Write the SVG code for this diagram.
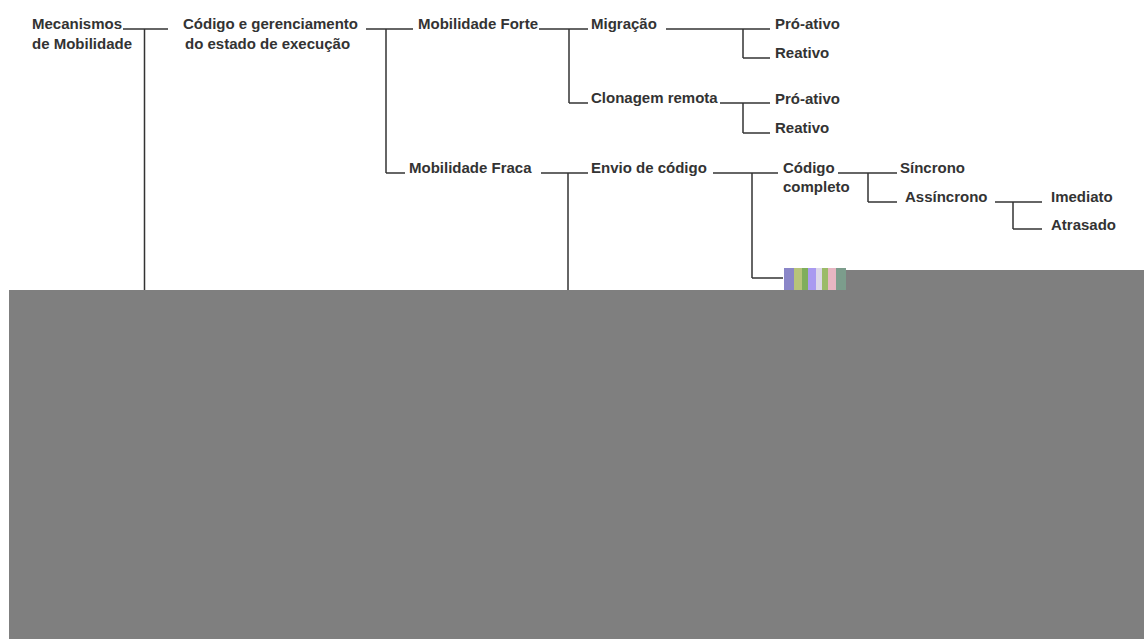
<svg xmlns="http://www.w3.org/2000/svg" width="1144" height="639" viewBox="0 0 1144 639">
<style>
text{font-family:"Liberation Sans",Arial,sans-serif;font-size:15px;font-weight:bold;fill:#333}
.c line{stroke:#333;stroke-width:1.5}
</style>
<rect width="1144" height="639" fill="#fff"/>
<g class="c" id="connectors">
<line x1="123" y1="29" x2="168" y2="29"/>
<line x1="144.5" y1="29" x2="144.5" y2="290"/>
<line x1="366" y1="29" x2="413" y2="29"/>
<line x1="386" y1="29" x2="386" y2="173"/>
<line x1="386" y1="173" x2="405" y2="173"/>
<line x1="539" y1="29" x2="588" y2="29"/>
<line x1="569" y1="29" x2="569" y2="103"/>
<line x1="569" y1="103" x2="588" y2="103"/>
<line x1="666" y1="29" x2="770" y2="29"/>
<line x1="743" y1="29" x2="743" y2="58"/>
<line x1="743" y1="58" x2="770" y2="58"/>
<line x1="720" y1="103" x2="770" y2="103"/>
<line x1="743" y1="103" x2="743" y2="133"/>
<line x1="743" y1="133" x2="770" y2="133"/>
<line x1="541" y1="173" x2="588" y2="173"/>
<line x1="568" y1="173" x2="568" y2="290"/>
<line x1="713" y1="173" x2="778" y2="173"/>
<line x1="752" y1="173" x2="752" y2="278"/>
<line x1="752" y1="278" x2="783" y2="278"/>
<line x1="838" y1="173" x2="897" y2="173"/>
<line x1="868" y1="173" x2="868" y2="202"/>
<line x1="868" y1="202" x2="897" y2="202"/>
<line x1="995" y1="202" x2="1042" y2="202"/>
<line x1="1013" y1="202" x2="1013" y2="229"/>
<line x1="1013" y1="229" x2="1042" y2="229"/>
</g>
<g id="n-mecanismos"><text x="32" y="29">Mecanismos</text><text x="32" y="49">de Mobilidade</text></g>
<g id="n-codigo-estado"><text x="183" y="29">Código e gerenciamento</text><text x="185" y="49">do estado de execução</text></g>
<g id="n-forte"><text x="418" y="29">Mobilidade Forte</text></g>
<g id="n-migracao"><text x="591" y="29">Migração</text></g>
<g id="n-mig-pro"><text x="775" y="29">Pró-ativo</text></g>
<g id="n-mig-rea"><text x="775" y="58">Reativo</text></g>
<g id="n-clonagem"><text x="591" y="103">Clonagem remota</text></g>
<g id="n-clo-pro"><text x="775" y="104">Pró-ativo</text></g>
<g id="n-clo-rea"><text x="775" y="133">Reativo</text></g>
<g id="n-fraca"><text x="409" y="173">Mobilidade Fraca</text></g>
<g id="n-envio"><text x="591" y="173">Envio de código</text></g>
<g id="n-completo"><text x="783" y="173">Código</text><text x="783" y="192">completo</text></g>
<g id="n-sincrono"><text x="900" y="173">Síncrono</text></g>
<g id="n-assincrono"><text x="905" y="202">Assíncrono</text></g>
<g id="n-imediato"><text x="1051" y="202">Imediato</text></g>
<g id="n-atrasado"><text x="1051" y="230">Atrasado</text></g>
<g id="artifact">
<rect x="784" y="268" width="10" height="22" fill="#8a86c8"/>
<rect x="794" y="268" width="8" height="22" fill="#b7c47a"/>
<rect x="802" y="268" width="6" height="22" fill="#7fae5c"/>
<rect x="808" y="268" width="8" height="22" fill="#a99af0"/>
<rect x="816" y="268" width="6" height="22" fill="#ddd8e8"/>
<rect x="822" y="268" width="6" height="22" fill="#9bbb68"/>
<rect x="828" y="268" width="8" height="22" fill="#e7b6c2"/>
<rect x="836" y="268" width="10" height="22" fill="#7c9d8c"/>
<rect x="846" y="270" width="298" height="20" fill="#7f7f7f"/>
<rect x="9" y="290" width="1135" height="349" fill="#7f7f7f"/>
</g>
</svg>
